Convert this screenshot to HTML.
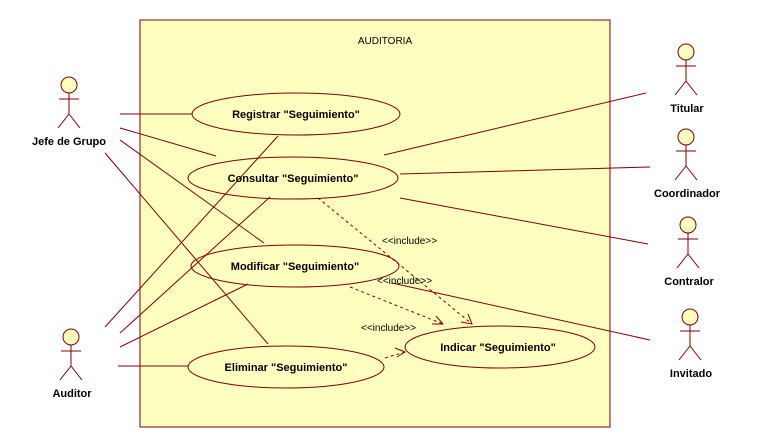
<!DOCTYPE html>
<html><head><meta charset="utf-8"><style>
html,body{margin:0;padding:0;background:#fff}
svg{display:block}
text{font-family:"Liberation Sans",sans-serif;fill:#000}
.b{font-weight:bold;font-size:11px}
</style></head><body>
<svg width="758" height="448" viewBox="0 0 758 448">
<rect x="140" y="20" width="470" height="407" fill="#ffffc0" stroke="#800000" stroke-width="1"/>
<text x="385" y="44" font-size="10" text-anchor="middle">AUDITORIA</text>
<g fill="#ffffc0" stroke="#800000" stroke-width="1">
<ellipse cx="296" cy="114" rx="104" ry="21"/>
<ellipse cx="293" cy="178" rx="105" ry="21"/>
<ellipse cx="295" cy="266" rx="104" ry="21"/>
<ellipse cx="286" cy="367" rx="98" ry="21"/>
<ellipse cx="500" cy="347" rx="95" ry="21"/>
</g>
<g stroke="#800000" stroke-width="1" fill="none">
<line x1="120" y1="114" x2="192" y2="114"/>
<line x1="120" y1="128" x2="216" y2="156"/>
<line x1="120" y1="140" x2="264" y2="243"/>
<line x1="105" y1="153" x2="268" y2="344"/>
<line x1="105" y1="327" x2="278" y2="136"/>
<line x1="120" y1="333" x2="270" y2="197"/>
<line x1="120" y1="347" x2="248" y2="284"/>
<line x1="118" y1="366" x2="188" y2="366"/>
<line x1="384" y1="155" x2="646" y2="93"/>
<line x1="400" y1="174" x2="650" y2="167"/>
<line x1="400" y1="198" x2="648" y2="244"/>
<line x1="392" y1="283" x2="650" y2="340"/>
</g>
<g stroke="#800000" stroke-width="1" fill="none" stroke-dasharray="3,3">
<line x1="318" y1="198" x2="472" y2="324"/>
<line x1="350" y1="287" x2="443" y2="324"/>
<line x1="385" y1="358" x2="405" y2="352"/>
</g>
<g stroke="#800000" stroke-width="1" fill="none">
<polyline points="461,322 472,324 468,314"/>
<polyline points="432,324 443,324 436,316"/>
<polyline points="395,348 405,352 397,357"/>
</g>
<text x="382" y="244" font-size="10">&lt;&lt;include&gt;&gt;</text>
<text x="377" y="284" font-size="10">&lt;&lt;include&gt;&gt;</text>
<text x="361" y="331" font-size="10">&lt;&lt;include&gt;&gt;</text>
<text class="b" x="296" y="118" text-anchor="middle">Registrar "Seguimiento"</text>
<text class="b" x="293" y="182" text-anchor="middle">Consultar "Seguimiento"</text>
<text class="b" x="295" y="270" text-anchor="middle">Modificar "Seguimiento"</text>
<text class="b" x="286" y="371" text-anchor="middle">Eliminar "Seguimiento"</text>
<text class="b" x="498" y="351" text-anchor="middle">Indicar "Seguimiento"</text>
<defs>
<g id="actor"><circle cx="0" cy="0" r="8" fill="#ffffc0" stroke="#800000"/><g stroke="#800000" fill="none"><line x1="0" y1="8" x2="0" y2="29"/><line x1="-10" y1="14" x2="10" y2="14"/><polyline points="-11,43 0,29 11,43"/></g></g>
</defs>
<use href="#actor" x="69" y="85"/>
<text class="b" x="69" y="145" text-anchor="middle">Jefe de Grupo</text>
<use href="#actor" x="71" y="337"/>
<text class="b" x="72" y="397" text-anchor="middle">Auditor</text>
<use href="#actor" x="686" y="52"/>
<text class="b" x="687" y="112" text-anchor="middle">Titular</text>
<use href="#actor" x="686" y="137"/>
<text class="b" x="687" y="197" text-anchor="middle">Coordinador</text>
<use href="#actor" x="688" y="225"/>
<text class="b" x="689" y="285" text-anchor="middle">Contralor</text>
<use href="#actor" x="690" y="317"/>
<text class="b" x="691" y="377" text-anchor="middle">Invitado</text>
</svg>
</body></html>
